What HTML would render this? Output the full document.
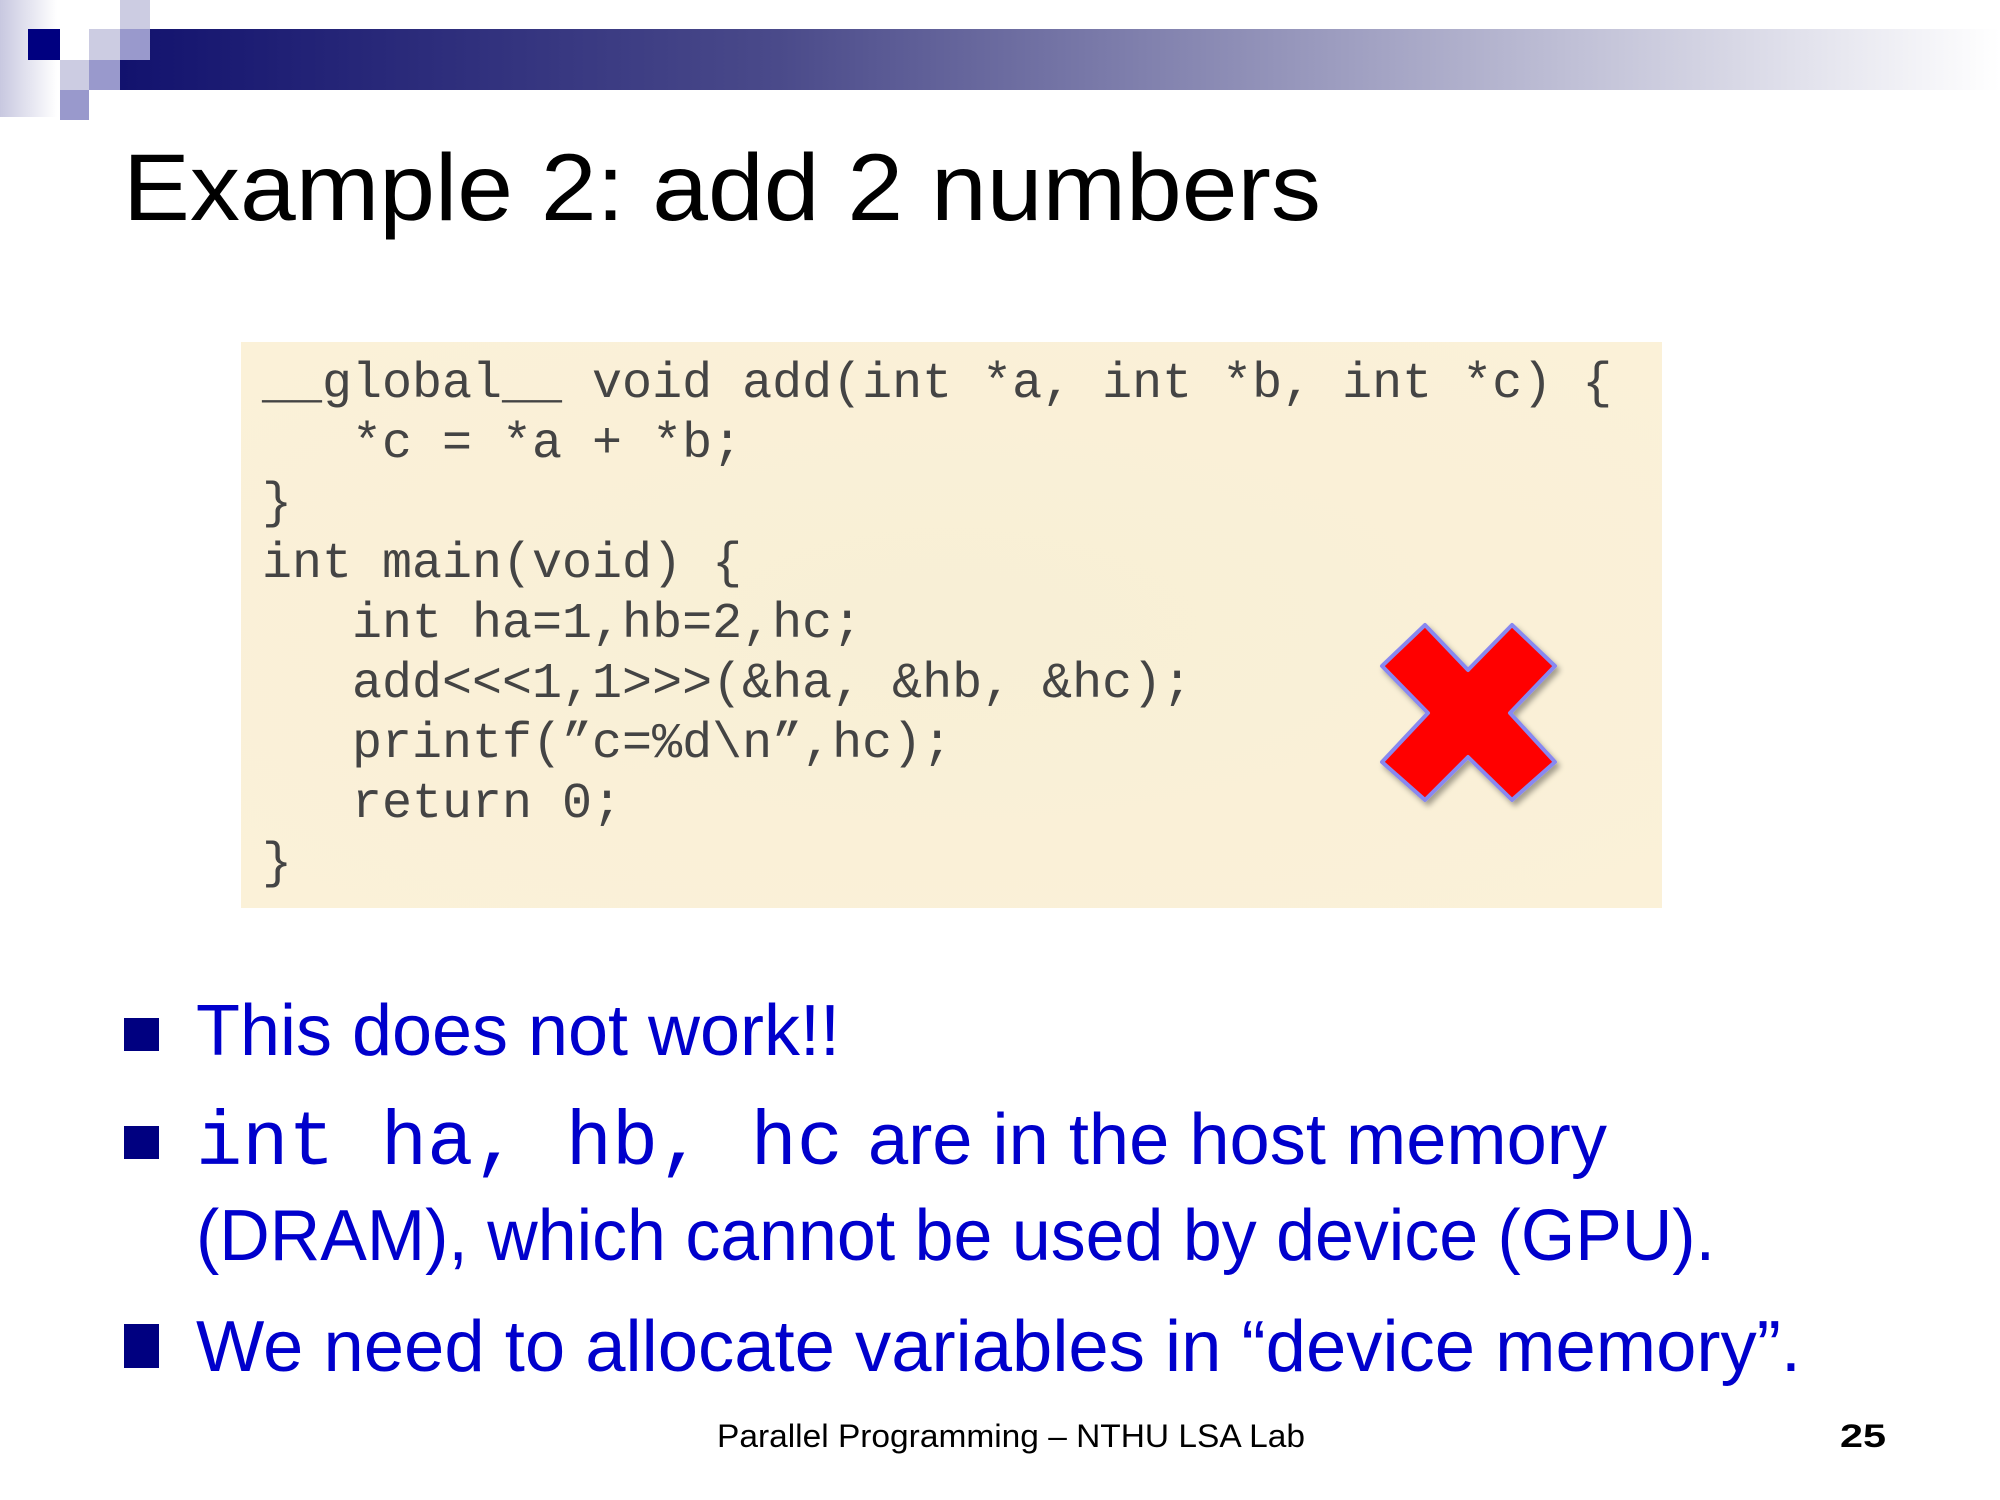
<!DOCTYPE html>
<html><head><meta charset="utf-8"><style>html,body{margin:0;padding:0;background:#fff}svg{display:block}.pre{white-space:pre}</style></head>
<body>
<svg width="2000" height="1500" viewBox="0 0 2000 1500" xmlns="http://www.w3.org/2000/svg">
<defs>
<linearGradient id="bar" x1="0" x2="1" y1="0" y2="0"><stop offset="0" stop-color="#12126e"/><stop offset="0.35" stop-color="#4a4a8a"/><stop offset="1" stop-color="#ffffff"/></linearGradient>
<linearGradient id="fade" x1="0" x2="1" y1="0" y2="0"><stop offset="0" stop-color="#c8c8e0"/><stop offset="1" stop-color="#ffffff"/></linearGradient>
<radialGradient id="paper" cx="0.5" cy="0.5" r="0.7"><stop offset="0" stop-color="#f8efd6"/><stop offset="1" stop-color="#fbf1d8"/></radialGradient>
<filter id="sh" x="-20%" y="-20%" width="140%" height="140%"><feDropShadow dx="3" dy="4" stdDeviation="3" flood-color="#000" flood-opacity="0.35"/></filter>
</defs>
<rect x="0" y="0" width="57" height="117" fill="url(#fade)"/>
<rect x="120" y="29" width="1880" height="61" fill="url(#bar)"/>
<rect x="28" y="29" width="32" height="31" fill="#000080"/>
<rect x="120" y="0" width="30" height="29" fill="#ccccE2"/>
<rect x="89" y="29" width="31" height="31" fill="#ccccE2"/>
<rect x="120" y="29" width="30" height="31" fill="#9999cc"/>
<rect x="60" y="60" width="29" height="30" fill="#ccccE2"/>
<rect x="89" y="60" width="31" height="30" fill="#9999cc"/>
<rect x="60" y="90" width="29" height="30" fill="#9999cc"/>

<text x="123" y="220" font-family="Liberation Sans, sans-serif" font-size="95" fill="#000" textLength="1198" lengthAdjust="spacingAndGlyphs">Example 2: add 2 numbers</text>

<rect x="241" y="342" width="1421" height="566" fill="url(#paper)"/>
<g font-family="Liberation Mono, monospace" font-size="50" fill="#444" class="pre">
<text x="262" y="397" class="pre">__global__ void add(int *a, int *b, int *c) {</text>
<text x="262" y="457" class="pre">   *c = *a + *b;</text>
<text x="262" y="517" class="pre">}</text>
<text x="262" y="577" class="pre">int main(void) {</text>
<text x="262" y="637" class="pre">   int ha=1,hb=2,hc;</text>
<text x="262" y="697" class="pre">   add&lt;&lt;&lt;1,1&gt;&gt;&gt;(&amp;ha, &amp;hb, &amp;hc);</text>
<text x="262" y="757" class="pre">   printf(”c=%d\n”,hc);</text>
<text x="262" y="817" class="pre">   return 0;</text>
<text x="262" y="877" class="pre">}</text>
</g>
<polygon filter="url(#sh)" points="1425,625 1468,670 1512,625 1555,666 1510,713 1555,762 1512,800 1468,757 1425,800 1382,762 1428,713 1382,666" fill="#ff0000" stroke="#8888f0" stroke-width="4" stroke-linejoin="round"/>

<g fill="#000080">
<rect x="124" y="1018" width="35" height="33"/>
<rect x="124" y="1126" width="35" height="33"/>
<rect x="124" y="1324" width="35" height="44"/>
</g>
<g font-family="Liberation Sans, sans-serif" font-size="72" fill="#0000cc">
<text x="196" y="1055" textLength="644" lengthAdjust="spacingAndGlyphs">This does not work!!</text>
<text x="196" y="1164" font-family="Liberation Mono, monospace" font-size="77" class="pre" textLength="647" lengthAdjust="spacingAndGlyphs">int ha, hb, hc</text>
<text x="868" y="1164" textLength="739" lengthAdjust="spacingAndGlyphs">are in the host memory</text>
<text x="196" y="1260" textLength="1519" lengthAdjust="spacingAndGlyphs">(DRAM), which cannot be used by device (GPU).</text>
<text x="196" y="1371" textLength="1605" lengthAdjust="spacingAndGlyphs">We need to allocate variables in “device memory”.</text>
</g>
<text x="717" y="1447" font-family="Liberation Sans, sans-serif" font-size="32" fill="#000" textLength="588" lengthAdjust="spacingAndGlyphs">Parallel Programming – NTHU LSA Lab</text>
<text x="1840" y="1447" font-family="Liberation Sans, sans-serif" font-size="32" font-weight="bold" fill="#000" textLength="46" lengthAdjust="spacingAndGlyphs">25</text>
</svg>
</body></html>
